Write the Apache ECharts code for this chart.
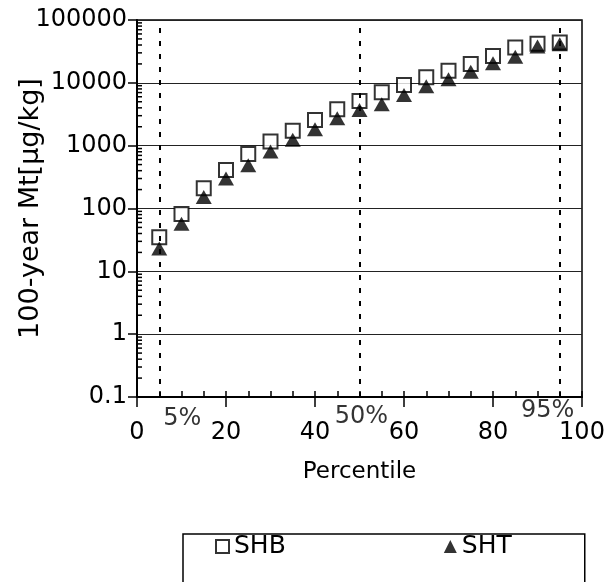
<!DOCTYPE html>
<html>
<head>
<meta charset="utf-8">
<script src="https://cdn.jsdelivr.net/npm/echarts@6/dist/echarts.min.js"></script>
<style>
  html, body { margin: 0; padding: 0; background: #fff; }
  #chart { width: 605px; height: 582px; }
</style>
</head>
<body>
<div id="chart"></div>
<script>
// Percentile positions of the plotted points
const percentiles = [5, 10, 15, 20, 25, 30, 35, 40, 45, 50, 55, 60, 65, 70, 75, 80, 85, 90, 95];

// 100-year Mt values [µg/kg]
const shbValues = [35, 82, 210, 410, 740, 1160, 1730, 2560, 3800, 5140, 7060, 9250, 12250, 15600, 19900, 26700, 36400, 42000, 44000];
const shtValues = [23, 57, 152, 300, 490, 810, 1240, 1820, 2720, 3700, 4570, 6400, 8800, 11400, 15000, 20500, 26000, 38000, 41000];

// Reference percentile lines and their captions
const refPercentiles = [5, 50, 95];
const refCaptions = ['5%', '50%', '95%'];

// Log-axis minor tick positions: multipliers within each decade
const decadeStarts = [0.1, 1, 10, 100, 1000, 10000];
const minorMultipliers = [2, 3, 4, 5, 6, 7, 8, 9];

const seriesNames = ['SHB', 'SHT'];

const FONT = 'DejaVu Sans';

const minorTickData = [];
decadeStarts.forEach(d => minorMultipliers.forEach(m => minorTickData.push([0, d * m])));

const toPairs = vals => percentiles.map((p, i) => [p, vals[i]]);

const captionOffsets = [[23, 4], [2, 2], [-12, -4]];

const chart = echarts.init(document.getElementById('chart'), null, { renderer: 'canvas' });

chart.setOption({
  animation: false,
  backgroundColor: '#fff',
  textStyle: { fontFamily: FONT, color: '#000' },
  grid: {
    left: 137, right: 23, top: 20, bottom: 185,
    containLabel: false,
    outerBoundsMode: 'none',
    show: true, borderColor: '#000', borderWidth: 1.5
  },
  legend: {
    data: seriesNames,
    left: 183, top: 534,
    padding: [0, 73, 40, 32],
    itemGap: 158,
    itemWidth: 13, itemHeight: 13,
    borderColor: '#000', borderWidth: 1.5,
    textStyle: { fontFamily: FONT, fontSize: 25, color: '#000' }
  },
  xAxis: [
    {
      type: 'value', min: 0, max: 100, interval: 20,
      position: 'bottom',
      name: 'Percentile', nameLocation: 'middle', nameGap: 64,
      nameMoveOverlap: false,
      nameTextStyle: { fontFamily: FONT, fontSize: 23, color: '#000' },
      axisLine: { show: true, onZero: false, lineStyle: { color: '#000', width: 2 } },
      axisTick: { show: true, length: 10, lineStyle: { color: '#000', width: 1.5 } },
      axisLabel: { margin: 24, fontFamily: FONT, fontSize: 24, color: '#000' },
      splitLine: { show: false }
    },
    {
      type: 'value', min: 0, max: 100, interval: 5,
      position: 'bottom',
      axisLine: { show: false, onZero: false },
      axisTick: { show: true, inside: true, length: 6, lineStyle: { color: '#000', width: 1.5 } },
      axisLabel: { show: false },
      splitLine: { show: false }
    }
  ],
  yAxis: {
    type: 'log', logBase: 10, min: 0.1, max: 100000,
    name: '100-year Mt[μg/kg]', nameLocation: 'middle', nameGap: 93, nameRotate: 90,
    nameMoveOverlap: false,
    nameTextStyle: { fontFamily: FONT, fontSize: 27, color: '#000' },
    axisLine: { show: true, onZero: false, lineStyle: { color: '#000', width: 2 } },
    axisTick: { show: true, length: 9, lineStyle: { color: '#000', width: 1.5 } },
    axisLabel: {
      margin: 10, fontFamily: FONT, fontSize: 24, color: '#000',
      formatter: v => String(Number(v.toPrecision(6)))
    },
    splitLine: { show: true, lineStyle: { color: '#222', width: 1 } }
  },
  series: [
    {
      name: 'SHB',
      type: 'scatter',
      symbol: 'rect',
      symbolSize: 14,
      itemStyle: { color: '#fff', borderColor: '#000', borderWidth: 2 },
      data: toPairs(shbValues),
      z: 3,
      markLine: {
        silent: true,
        symbol: 'none',
        label: { show: false },
        lineStyle: { color: '#000', type: [5, 8], width: 2 },
        data: refPercentiles.map(p => ({ xAxis: p }))
      }
    },
    {
      name: 'SHT',
      type: 'scatter',
      symbol: 'triangle',
      symbolSize: [16, 14],
      itemStyle: { color: '#000' },
      data: toPairs(shtValues),
      z: 4
    },
    {
      name: 'captions',
      type: 'scatter',
      symbolSize: 0,
      clip: false,
      silent: true,
      data: refPercentiles.map((p, i) => ({
        value: [p, 0.1],
        label: { offset: captionOffsets[i] }
      })),
      label: {
        show: true, position: 'bottom', distance: 6,
        fontFamily: FONT, fontSize: 24, color: '#000',
        formatter: params => refCaptions[params.dataIndex]
      }
    },
    {
      name: 'yMinorTicks',
      type: 'custom',
      silent: true,
      clip: false,
      data: minorTickData,
      renderItem: (params, api) => {
        const p = api.coord([0, api.value(1)]);
        return {
          type: 'line',
          shape: { x1: p[0], y1: p[1], x2: p[0] + 5, y2: p[1] },
          style: { stroke: '#000', lineWidth: 1.5 }
        };
      },
      z: 5
    }
  ]
});
</script>
</body>
</html>
